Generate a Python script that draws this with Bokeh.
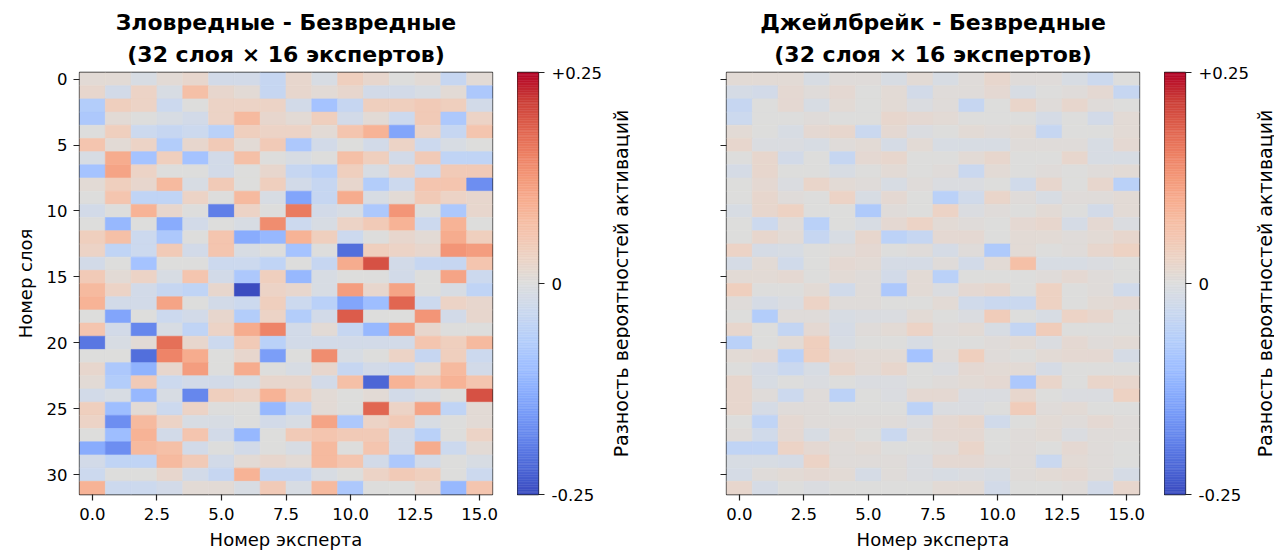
import math
import numpy as np
from bokeh.plotting import figure
from bokeh.models import (ColumnDataSource, LinearColorMapper, Range1d, FixedTicker,
                          PrintfTickFormatter, Title)
from bokeh.core.properties import value
from bokeh.layouts import row
from bokeh.embed import file_html
from bokeh.resources import INLINE

# ---------------- data ----------------
experts = list(range(16))
layers = list(range(32))
x_ticks = [0, 2.5, 5, 7.5, 10, 12.5, 15]
y_ticks = [0, 5, 10, 15, 20, 25, 30]
cbar_ticks = [-0.25, 0, 0.25]
cbar_tick_labels = ["-0.25", "0", "+0.25"]
vmin, vmax = -0.25, 0.25

title_left = ["Зловредные - Безвредные", "(32 слоя × 16 экспертов)"]
title_right = ["Джейлбрейк - Безвредные", "(32 слоя × 16 экспертов)"]
x_label = "Номер эксперта"
y_label = "Номер слоя"
cbar_label = "Разность вероятностей активаций"

harmful_minus_benign = [
    [0.01, 0.01, -0.01, 0.01, 0.02, -0.02, -0.02, -0.04, 0.02, -0.01, 0.04, 0.02, 0.0, 0.01, -0.04, 0.01],
    [0.02, -0.02, 0.03, -0.01, 0.07, 0.02, 0.01, -0.04, 0.02, 0.01, 0.02, -0.02, -0.02, -0.01, 0.01, -0.08],
    [-0.07, 0.04, 0.03, -0.03, 0.0, 0.03, 0.03, 0.03, -0.02, -0.09, -0.04, 0.04, 0.04, 0.05, 0.04, -0.02],
    [-0.08, 0.01, 0.0, -0.01, -0.02, 0.03, 0.08, 0.02, 0.01, 0.04, -0.02, 0.01, -0.03, 0.05, -0.08, 0.03],
    [0.0, 0.04, -0.03, -0.04, -0.03, -0.06, 0.04, 0.03, 0.03, 0.01, 0.06, 0.09, -0.14, 0.03, -0.04, 0.06],
    [0.06, 0.01, 0.03, -0.07, 0.02, 0.05, 0.01, 0.05, -0.08, -0.02, 0.0, -0.02, 0.03, -0.03, -0.01, 0.0],
    [-0.01, 0.10, -0.09, 0.04, -0.09, -0.02, 0.07, 0.0, -0.01, 0.0, 0.07, 0.04, -0.02, 0.05, -0.05, -0.05],
    [-0.09, 0.11, 0.03, 0.0, 0.0, -0.02, 0.0, 0.02, -0.04, -0.06, 0.04, -0.01, 0.03, -0.03, 0.05, 0.05],
    [0.01, 0.04, 0.02, 0.08, -0.01, 0.05, 0.0, 0.04, -0.02, -0.04, 0.02, -0.07, -0.03, 0.06, 0.06, -0.17],
    [0.0, 0.06, -0.05, -0.05, 0.03, 0.0, 0.08, -0.01, -0.14, -0.04, 0.10, -0.01, 0.01, 0.05, 0.03, 0.02],
    [-0.02, 0.0, 0.09, 0.02, 0.0, -0.19, 0.03, 0.0, 0.16, -0.02, -0.01, -0.08, 0.13, 0.0, -0.08, 0.02],
    [0.0, -0.11, 0.0, -0.13, -0.02, 0.0, -0.01, 0.14, -0.03, -0.01, 0.03, 0.05, 0.09, -0.03, 0.09, 0.0],
    [0.04, 0.07, -0.03, -0.08, 0.0, 0.06, -0.13, -0.11, 0.09, 0.04, -0.03, 0.0, 0.02, 0.01, 0.10, 0.04],
    [0.03, -0.05, -0.03, 0.05, -0.02, 0.06, -0.01, 0.0, -0.09, 0.0, -0.21, 0.04, 0.03, 0.02, 0.13, 0.12],
    [-0.02, 0.0, -0.09, 0.0, 0.0, -0.03, -0.03, -0.05, 0.0, -0.04, 0.10, 0.20, -0.02, -0.04, -0.04, 0.06],
    [0.05, 0.01, 0.03, -0.01, 0.06, -0.02, -0.08, 0.04, -0.11, -0.01, 0.0, 0.0, -0.02, 0.0, 0.11, -0.03],
    [0.08, 0.03, -0.02, -0.04, -0.05, 0.02, -0.25, 0.03, 0.02, -0.01, 0.12, 0.02, 0.11, 0.0, -0.01, -0.05],
    [0.09, -0.02, -0.02, 0.11, 0.0, -0.02, -0.03, 0.04, -0.03, -0.06, -0.14, -0.10, 0.18, -0.03, 0.03, 0.02],
    [0.0, -0.14, 0.0, -0.03, -0.02, 0.02, -0.07, 0.03, -0.07, -0.02, 0.19, 0.0, 0.0, 0.13, -0.02, 0.02],
    [0.06, -0.02, -0.18, -0.01, -0.05, 0.03, 0.10, 0.15, -0.02, 0.01, -0.04, -0.11, 0.12, 0.02, 0.0, 0.0],
    [-0.20, -0.01, 0.01, 0.17, 0.02, -0.03, 0.05, -0.06, -0.02, -0.02, -0.02, -0.02, -0.02, 0.06, 0.04, 0.08],
    [0.0, 0.0, -0.21, 0.15, 0.10, 0.0, 0.02, -0.15, 0.0, 0.14, -0.01, 0.0, 0.03, -0.04, 0.04, -0.03],
    [0.02, -0.08, -0.12, 0.02, 0.12, 0.0, 0.10, 0.0, -0.01, 0.02, -0.04, -0.02, -0.03, 0.01, 0.08, -0.02],
    [0.01, -0.07, 0.05, -0.03, -0.02, -0.02, -0.01, 0.02, 0.02, -0.02, 0.07, -0.22, 0.09, 0.06, 0.09, 0.06],
    [-0.02, -0.01, -0.11, -0.01, -0.18, 0.04, 0.03, 0.09, 0.04, 0.01, 0.0, 0.01, -0.02, -0.01, 0.0, 0.20],
    [0.04, -0.10, 0.01, -0.03, 0.03, 0.0, 0.0, -0.11, -0.04, 0.01, 0.0, 0.18, 0.03, 0.11, -0.05, 0.01],
    [0.03, -0.17, 0.08, 0.03, -0.01, -0.01, 0.0, -0.02, -0.01, 0.11, -0.08, 0.03, 0.05, -0.01, 0.0, 0.01],
    [0.0, -0.10, 0.09, -0.02, 0.06, -0.02, -0.11, 0.0, 0.05, 0.06, 0.05, 0.05, -0.02, -0.06, 0.0, 0.03],
    [-0.13, -0.17, 0.08, 0.07, -0.02, 0.0, -0.02, 0.0, -0.01, 0.08, 0.0, 0.06, -0.02, 0.10, -0.03, 0.01],
    [-0.02, -0.05, -0.05, 0.08, 0.05, -0.02, 0.01, 0.02, 0.01, 0.08, 0.06, -0.02, -0.08, -0.02, 0.0, -0.01],
    [-0.03, 0.0, 0.0, 0.02, -0.02, -0.04, 0.09, -0.04, -0.04, -0.01, 0.0, 0.03, 0.05, 0.04, 0.0, -0.03],
    [0.09, -0.03, -0.03, -0.02, 0.01, 0.01, -0.01, 0.05, -0.01, 0.08, -0.08, 0.0, 0.0, 0.02, -0.11, 0.06],
]

jailbreak_minus_benign = [
    [0.01, 0.01, 0.01, -0.01, 0.005, 0.005, -0.01, 0.01, -0.01, 0.005, 0.02, 0.005, 0.005, -0.01, -0.03, 0.0],
    [-0.015, -0.02, 0.015, 0.005, 0.015, 0.0, 0.01, -0.02, 0.005, 0.005, 0.015, -0.01, 0.0, 0.005, 0.015, -0.04],
    [-0.04, 0.0, 0.015, -0.01, 0.01, 0.0, 0.01, -0.005, 0.005, -0.04, 0.0, 0.025, 0.005, 0.02, 0.005, 0.0],
    [-0.03, 0.0, 0.0, 0.005, 0.0, 0.0, 0.02, 0.015, 0.01, 0.0, 0.0, 0.0, -0.015, 0.0, -0.02, 0.01],
    [0.01, 0.0, -0.01, 0.015, 0.02, -0.035, 0.015, -0.005, 0.0, 0.01, 0.005, 0.01, -0.04, 0.0, 0.0, 0.01],
    [0.02, -0.005, -0.005, -0.01, 0.005, 0.01, -0.015, 0.01, -0.01, -0.01, -0.01, 0.005, 0.005, 0.005, -0.01, 0.015],
    [0.0, 0.02, -0.02, 0.0, -0.04, 0.015, 0.02, 0.0, 0.0, 0.01, 0.02, 0.0, 0.0, 0.02, -0.01, -0.01],
    [-0.015, 0.02, 0.0, 0.0, -0.01, 0.0, 0.01, 0.0, 0.005, -0.035, 0.01, 0.0, 0.005, 0.0, 0.005, 0.01],
    [0.0, 0.015, -0.005, 0.025, 0.01, 0.005, -0.01, 0.005, -0.005, -0.005, 0.0, -0.025, 0.02, 0.0, 0.02, -0.06],
    [0.0, 0.02, 0.005, 0.0, 0.03, -0.01, 0.015, 0.0, -0.06, -0.025, 0.025, 0.005, -0.01, 0.005, 0.005, 0.01],
    [-0.01, 0.02, 0.035, 0.0, 0.0, -0.075, 0.005, 0.0, 0.03, -0.005, 0.005, 0.0, 0.01, 0.0, -0.02, 0.01],
    [0.0, -0.03, 0.005, -0.06, 0.0, -0.01, 0.015, 0.03, 0.01, 0.005, 0.0, 0.015, 0.02, -0.015, 0.015, -0.005],
    [0.0, 0.02, 0.01, -0.04, -0.01, 0.02, -0.055, -0.04, 0.015, 0.015, 0.0, 0.01, 0.01, 0.005, 0.01, 0.02],
    [0.03, -0.015, -0.01, 0.0, 0.005, 0.015, 0.0, 0.005, -0.015, 0.005, -0.075, 0.01, 0.0, 0.005, 0.02, 0.035],
    [-0.015, 0.01, -0.025, 0.0, 0.015, 0.01, -0.015, -0.015, 0.005, -0.02, 0.01, 0.07, -0.01, -0.01, -0.005, 0.0],
    [0.01, 0.01, 0.015, 0.0, 0.01, 0.005, -0.02, 0.01, -0.06, 0.0, 0.0, 0.0, 0.005, 0.015, 0.005, 0.0],
    [0.04, 0.0, 0.0, 0.01, -0.025, 0.005, -0.08, 0.01, -0.005, 0.015, 0.02, 0.0, 0.035, 0.0, 0.005, -0.025],
    [0.005, -0.015, -0.005, 0.03, 0.005, 0.005, 0.0, 0.0, 0.01, -0.025, -0.035, -0.035, 0.035, 0.0, 0.01, 0.015],
    [0.0, -0.07, 0.005, 0.005, -0.01, -0.005, -0.005, 0.01, 0.0, -0.005, 0.045, 0.0, -0.01, 0.03, 0.02, 0.0],
    [0.02, 0.0, -0.045, 0.015, -0.015, 0.005, 0.01, 0.03, 0.005, 0.01, -0.01, -0.045, 0.045, 0.0, 0.0, 0.0],
    [-0.06, 0.0, 0.01, 0.04, -0.01, 0.0, 0.0, -0.01, 0.0, 0.0, 0.005, 0.01, -0.005, 0.015, 0.005, 0.01],
    [0.01, 0.015, -0.06, 0.04, 0.015, 0.01, 0.01, -0.09, 0.005, 0.04, 0.005, 0.0, 0.01, 0.015, 0.015, -0.015],
    [0.0, -0.015, -0.035, -0.01, 0.025, 0.01, 0.02, 0.0, -0.005, 0.015, 0.01, 0.01, -0.015, 0.0, 0.0, 0.0],
    [0.02, -0.01, 0.0, -0.005, 0.0, -0.005, -0.005, 0.0, 0.005, 0.01, 0.015, -0.08, 0.025, 0.0, 0.025, 0.02],
    [0.02, 0.005, -0.03, 0.005, -0.055, 0.0, -0.005, 0.015, 0.015, -0.005, -0.005, 0.02, 0.0, -0.005, -0.005, 0.035],
    [0.02, -0.015, 0.005, 0.005, 0.0, 0.0, 0.0, -0.055, -0.005, -0.005, 0.0, 0.045, 0.005, 0.01, 0.0, 0.0],
    [0.0, -0.05, 0.015, 0.005, 0.005, 0.005, 0.005, -0.005, 0.015, 0.02, -0.025, 0.0, 0.01, 0.005, 0.015, 0.005],
    [0.005, -0.025, 0.015, -0.01, 0.01, 0.0, -0.035, 0.005, 0.015, 0.015, 0.0, 0.005, 0.01, -0.005, 0.005, 0.005],
    [-0.05, -0.05, 0.03, 0.015, 0.005, 0.01, 0.0, 0.0, 0.005, 0.025, 0.0, 0.005, 0.0, 0.015, 0.005, 0.0],
    [-0.01, -0.01, -0.015, 0.03, 0.005, 0.005, 0.005, -0.005, 0.015, 0.015, 0.005, 0.005, -0.035, 0.01, 0.005, 0.0],
    [-0.015, 0.005, 0.01, 0.015, 0.01, -0.015, 0.005, -0.005, -0.01, -0.005, -0.01, 0.005, 0.01, 0.015, 0.005, -0.015],
    [0.02, -0.015, 0.0, -0.005, 0.0, 0.0, 0.0, 0.0, 0.01, 0.01, -0.02, 0.0, 0.0, 0.005, -0.02, 0.02],
]

# ---------------- coolwarm palette ----------------
cw_anchor_rgb = [
    (59, 76, 192), (77, 104, 215), (98, 130, 234), (119, 154, 247), (141, 176, 254),
    (163, 194, 255), (184, 208, 249), (204, 217, 238), (221, 221, 221), (236, 211, 197),
    (245, 196, 173), (247, 177, 148), (244, 154, 123), (236, 127, 99), (222, 96, 77),
    (203, 62, 56), (180, 4, 38),
]


def build_palette(n=256):
    a = np.array(cw_anchor_rgb, dtype=float)
    pos = np.linspace(0, 1, len(a))
    t = np.linspace(0, 1, n)
    cols = []
    for ti in t:
        r = np.interp(ti, pos, a[:, 0])
        g = np.interp(ti, pos, a[:, 1])
        b = np.interp(ti, pos, a[:, 2])
        cols.append("#%02x%02x%02x" % (int(round(r)), int(round(g)), int(round(b))))
    return cols


palette = build_palette(256)
mapper = LinearColorMapper(palette=palette, low=vmin, high=vmax)

FONT = "DejaVu Sans"
TOP, BOTTOM = 72, 61
FRAME_H = 422
HM_W = 413
CB_W = 21
LAB_W = 20
TICK_FS = "16.5px"
LABEL_FS = "18px"


def style_axis(ax):
    ax.axis_line_color = None
    ax.major_tick_out = 6
    ax.major_tick_in = 0
    ax.minor_tick_out = 0
    ax.minor_tick_in = 0
    ax.major_tick_line_color = "#222222"
    ax.major_tick_line_width = 1.2
    ax.major_label_text_font = FONT
    ax.major_label_text_font_size = TICK_FS
    ax.major_label_text_color = "black"
    ax.axis_label_text_font = FONT
    ax.axis_label_text_font_size = LABEL_FS
    ax.axis_label_text_font_style = "normal"
    ax.axis_label_text_color = "black"


def make_heatmap(matrix, title_lines, show_ylabels, left_border, right_border):
    xs, ys, vs = [], [], []
    for li in layers:
        for ei in experts:
            xs.append(ei)
            ys.append(li)
            vs.append(matrix[li][ei])
    src = ColumnDataSource(dict(x=xs, y=ys, v=vs))
    p = figure(
        title=None,
        frame_width=HM_W, frame_height=FRAME_H,
        x_range=Range1d(-0.5, 15.5), y_range=Range1d(31.5, -0.5),
        min_border_left=left_border, min_border_right=right_border,
        min_border_top=TOP, min_border_bottom=BOTTOM,
        output_backend="svg", toolbar_location=None,
        background_fill_color="white", border_fill_color="white",
    )
    cmap = {"field": "v", "transform": mapper}
    p.rect(x="x", y="y", width=1, height=1, source=src,
           fill_color=cmap, line_color=cmap, line_width=0.6)
    p.grid.visible = False
    p.outline_line_color = "#222222"
    p.outline_line_width = 1.3

    # two centred title lines: first added sits closest to the frame
    for text, standoff in ((title_lines[1], 11), (title_lines[0], 0)):
        t = Title(text=text, align="center", text_font=FONT, text_font_size="22px",
                  text_font_style="bold", text_color="black", standoff=standoff)
        p.add_layout(t, "above")

    style_axis(p.xaxis[0])
    style_axis(p.yaxis[0])
    p.xaxis.ticker = FixedTicker(ticks=x_ticks)
    p.xaxis.formatter = PrintfTickFormatter(format="%.1f")
    p.xaxis.major_label_standoff = 7
    p.xaxis.axis_label = x_label
    p.xaxis.axis_label_standoff = 6
    p.yaxis.ticker = FixedTicker(ticks=y_ticks)
    if show_ylabels:
        p.yaxis.major_label_standoff = 6
        p.yaxis.axis_label = y_label
        p.yaxis.axis_label_standoff = 8
    else:
        p.yaxis.major_label_overrides = {t: "" for t in y_ticks}
        p.yaxis.major_label_standoff = 0
    return p


def make_cbar(right_border):
    c = figure(
        title=None,
        frame_width=CB_W, frame_height=FRAME_H,
        x_range=Range1d(0, 1), y_range=Range1d(vmin, vmax),
        x_axis_location=None, y_axis_location="right",
        min_border_left=0, min_border_right=right_border,
        min_border_top=TOP, min_border_bottom=BOTTOM,
        output_backend="svg", toolbar_location=None,
    )
    n = len(palette)
    edges = np.linspace(vmin, vmax, n + 1)
    c.quad(left=0, right=1, bottom=edges[:-1], top=edges[1:],
           fill_color=palette, line_color=palette, line_width=0.5)
    c.grid.visible = False
    c.outline_line_color = "#222222"
    c.outline_line_width = 1.3
    ax = c.yaxis[0]
    style_axis(ax)
    ax.ticker = FixedTicker(ticks=cbar_ticks)
    ax.major_label_overrides = dict(zip(cbar_ticks, cbar_tick_labels))
    ax.major_label_standoff = 7
    return c


def make_cbar_label():
    q = figure(
        title=None,
        frame_width=LAB_W, frame_height=FRAME_H,
        x_range=Range1d(0, 1), y_range=Range1d(vmin, vmax),
        x_axis_location=None, y_axis_location=None,
        min_border_left=0, min_border_right=0,
        min_border_top=TOP, min_border_bottom=BOTTOM,
        output_backend="svg", toolbar_location=None,
    )
    q.grid.visible = False
    q.outline_line_color = None
    q.text(x=[0.5], y=[(vmin + vmax) / 2], text=[cbar_label], angle=math.pi / 2,
           text_align="center", text_baseline="middle",
           text_font=value(FONT), text_font_size="19px", text_color="black")
    return q


h1 = make_heatmap(harmful_minus_benign, title_left, True, 79, 25)
c1 = make_cbar(72)
l1 = make_cbar_label()
h2 = make_heatmap(jailbreak_minus_benign, title_right, False, 96, 25)
c2 = make_cbar(69)
l2 = make_cbar_label()

layout = row(h1, c1, l1, h2, c2, l2, spacing=0)
open("out.html", "w").write(file_html(layout, INLINE))
